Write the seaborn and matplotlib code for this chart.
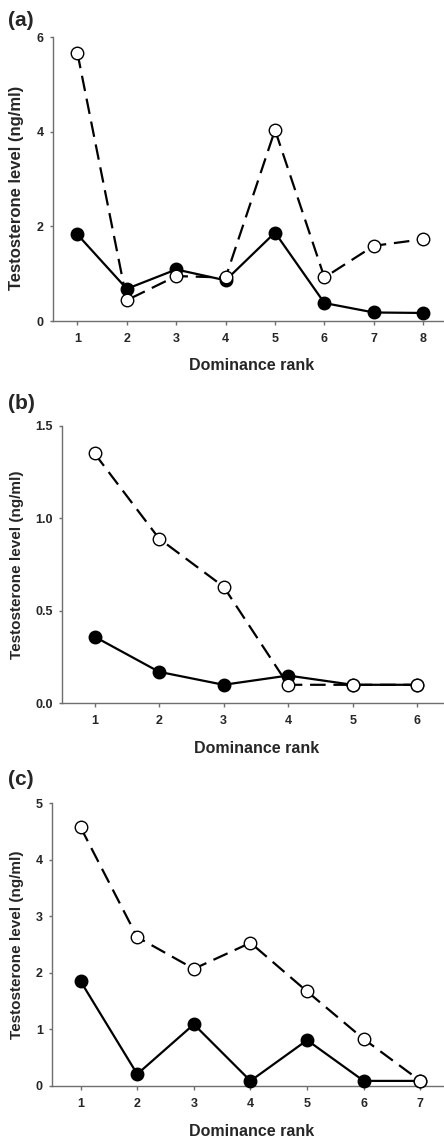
import matplotlib
matplotlib.use("Agg")
import matplotlib.pyplot as plt
import seaborn as sns
import pandas as pd

# Testosterone level by dominance rank, three groups (a), (b), (c)
# filled circles = solid line, open circles = dashed line
ranks_a = [1, 2, 3, 4, 5, 6, 7, 8]
filled_a = [1.83, 0.68, 1.09, 0.86, 1.87, 0.38, 0.18, 0.17]
open_a = [5.67, 0.44, 0.95, 0.92, 4.04, 0.92, 1.59, 1.73]

ranks_b = [1, 2, 3, 4, 5, 6]
filled_b = [0.36, 0.17, 0.10, 0.15, 0.10, 0.10]
open_b = [1.35, 0.89, 0.63, 0.10, 0.10, 0.10]

ranks_c = [1, 2, 3, 4, 5, 6, 7]
filled_c = [1.85, 0.21, 1.09, 0.09, 0.81, 0.09, 0.09]
open_c = [4.57, 2.63, 2.07, 2.53, 1.67, 0.83, 0.09]

yticks_a = [0, 2, 4, 6]
yticks_b = [0.0, 0.5, 1.0, 1.5]
yticks_c = [0, 1, 2, 3, 4, 5]
ylabels_b = ["0.0", "0.5", "1.0", "1.5"]

panel_names = ["(a)", "(b)", "(c)"]
xlab = "Dominance rank"
ylab = "Testosterone level (ng/ml)"

sns.set_style("ticks")
plt.rcParams["font.family"] = ["Liberation Sans", "DejaVu Sans"]
plt.rcParams["font.weight"] = "bold"

W, H = 444, 1142
fig = plt.figure(figsize=(W / 100, H / 100), dpi=100)

# pixel boxes of each panel: left, right, top, bottom
boxes = [(52.7, 443, 37.3, 321), (62.3, 443, 425.7, 703.3), (52.3, 443, 803, 1086)]
panels = [
    (ranks_a, filled_a, open_a, yticks_a, [str(t) for t in yticks_a], 12, 0.47),
    (ranks_b, filled_b, open_b, yticks_b, ylabels_b, 11, 0.5),
    (ranks_c, filled_c, open_c, yticks_c, [str(t) for t in yticks_c], 11, 0.5),
]
label_tops = [11, 394, 770]
xlab_tops = [358, 741, 1124]

for i, (ranks, filled, opn, yt, ytl, ysize, ymid) in enumerate(panels):
    l, r, t, b = boxes[i]
    ax = fig.add_axes([l / W, 1 - b / H, (r - l) / W, (b - t) / H])

    df = pd.DataFrame({"rank": ranks, "filled": filled, "open": opn})
    sns.lineplot(data=df, x="rank", y="filled", ax=ax, color="black", lw=1.6,
                 marker="o", markersize=9, markerfacecolor="black",
                 markeredgecolor="black", markeredgewidth=1, clip_on=False, zorder=3)
    sns.lineplot(data=df, x="rank", y="open", ax=ax, color="black", lw=1.6,
                 linestyle=(0, (7, 3.5)), marker="o", markersize=9,
                 markerfacecolor="white", markeredgecolor="black",
                 markeredgewidth=1, clip_on=False, zorder=4)

    ax.set_xlim(0.5, len(ranks) + 0.4)
    ax.set_ylim(yt[0], yt[-1])
    ax.set_xticks(ranks)
    ax.set_xticklabels([str(x) for x in ranks], fontsize=9, fontweight="bold")
    ax.set_yticks(yt)
    ax.set_yticklabels(ytl, fontsize=9, fontweight="bold")
    ax.tick_params(axis="x", length=3, width=1, color="#6e6e6e", pad=5.5)
    ax.tick_params(axis="y", length=2.2, width=1, color="#6e6e6e", pad=4.5)
    sns.despine(ax=ax)
    for s in ["left", "bottom"]:
        ax.spines[s].set_color("#6e6e6e")
        ax.spines[s].set_linewidth(1)

    ax.set_xlabel(xlab, fontsize=11.5, fontweight="bold", va="top")
    ax.xaxis.set_label_coords(0.51, (b - xlab_tops[i]) / (b - t))
    ax.set_ylabel(ylab, fontsize=ysize, fontweight="bold")
    ax.yaxis.set_label_coords((24 - l) / (r - l), ymid)

    fig.text(8 / W, 1 - label_tops[i] / H, panel_names[i], fontsize=15,
             fontweight="bold", ha="left", va="top")

fig.savefig("out.png", dpi=100)
